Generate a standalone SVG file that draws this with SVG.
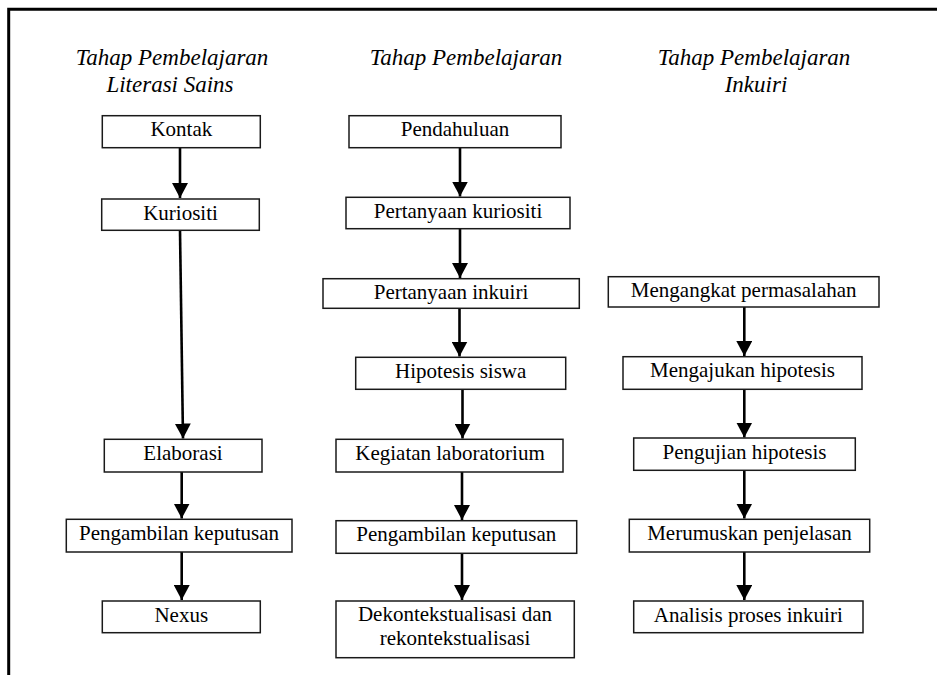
<svg xmlns="http://www.w3.org/2000/svg" width="937" height="675" viewBox="0 0 937 675">
<defs>
<marker id="ah" markerUnits="userSpaceOnUse" markerWidth="16" markerHeight="16" viewBox="0 0 16 16" refX="15" refY="8" orient="auto">
<path d="M0,0 L15,8 L0,16 Z" fill="#000"/>
</marker>
</defs>
<rect width="937" height="675" fill="#fff"/>
<path d="M8.7,675 V9.3 H937" fill="none" stroke="#000" stroke-width="3"/>
<g id="headers" font-family="Liberation Serif" font-style="italic" font-size="23" fill="#000" text-anchor="middle">
<text x="172" y="65">Tahap Pembelajaran</text>
<text x="170" y="92">Literasi Sains</text>
<text x="466" y="65">Tahap Pembelajaran</text>
<text x="754" y="65">Tahap Pembelajaran</text>
<text x="756" y="92">Inkuiri</text>
</g>
<g id="connectors" stroke="#000" stroke-width="2.6" fill="none" marker-end="url(#ah)">
<line x1="180" y1="148" x2="180" y2="198"/>
<line x1="180" y1="230.5" x2="183" y2="438.5"/>
<line x1="181.7" y1="472" x2="181.7" y2="518.5"/>
<line x1="181.7" y1="552" x2="181.7" y2="600"/>
<line x1="460" y1="148" x2="460" y2="196.5"/>
<line x1="460" y1="229" x2="460" y2="278"/>
<line x1="459.5" y1="308.5" x2="459.5" y2="356.5"/>
<line x1="462.5" y1="389.5" x2="462.5" y2="438.5"/>
<line x1="462" y1="472" x2="462" y2="520"/>
<line x1="462" y1="553.5" x2="462" y2="600"/>
<line x1="744.3" y1="307" x2="744.3" y2="356"/>
<line x1="744.3" y1="389.5" x2="744.3" y2="437.5"/>
<line x1="744.3" y1="470.5" x2="744.3" y2="518.5"/>
<line x1="744.3" y1="552" x2="744.3" y2="600"/>
</g>
<g id="nodes" font-family="Liberation Serif" font-size="21" text-anchor="middle">
<g id="kontak"><rect x="102.3" y="115.7" width="158" height="32" fill="#fff" stroke="#1a1a1a" stroke-width="1.5"/><text x="181.3" y="136">Kontak</text></g>
<g id="kuriositi"><rect x="101.7" y="199" width="157.6" height="31.3" fill="#fff" stroke="#1a1a1a" stroke-width="1.5"/><text x="180.5" y="219.5">Kuriositi</text></g>
<g id="elaborasi"><rect x="104.3" y="439.3" width="157.7" height="32.7" fill="#fff" stroke="#1a1a1a" stroke-width="1.5"/><text x="183" y="460">Elaborasi</text></g>
<g id="pengambilan1"><rect x="66.3" y="519.3" width="225.7" height="32.7" fill="#fff" stroke="#1a1a1a" stroke-width="1.5"/><text x="179" y="540">Pengambilan keputusan</text></g>
<g id="nexus"><rect x="102.3" y="601" width="158" height="31.7" fill="#fff" stroke="#1a1a1a" stroke-width="1.5"/><text x="181.3" y="621.5">Nexus</text></g>
<g id="pendahuluan"><rect x="349" y="115.7" width="212" height="32" fill="#fff" stroke="#1a1a1a" stroke-width="1.5"/><text x="455" y="136">Pendahuluan</text></g>
<g id="pertanyaan-kuriositi"><rect x="346" y="197.3" width="224" height="31.4" fill="#fff" stroke="#1a1a1a" stroke-width="1.5"/><text x="458" y="217.7">Pertanyaan kuriositi</text></g>
<g id="pertanyaan-inkuiri"><rect x="323" y="278.7" width="256.3" height="29.6" fill="#fff" stroke="#1a1a1a" stroke-width="1.5"/><text x="451" y="298.5">Pertanyaan inkuiri</text></g>
<g id="hipotesis-siswa"><rect x="355.7" y="357.3" width="210" height="32" fill="#fff" stroke="#1a1a1a" stroke-width="1.5"/><text x="460.7" y="377.7">Hipotesis siswa</text></g>
<g id="kegiatan"><rect x="336" y="439.3" width="227" height="32.7" fill="#fff" stroke="#1a1a1a" stroke-width="1.5"/><text x="450" y="460">Kegiatan laboratorium</text></g>
<g id="pengambilan2"><rect x="336" y="520.7" width="240.7" height="32.6" fill="#fff" stroke="#1a1a1a" stroke-width="1.5"/><text x="456.3" y="541.2">Pengambilan keputusan</text></g>
<g id="dekontekstualisasi"><rect x="336" y="601" width="238.3" height="56.7" fill="#fff" stroke="#1a1a1a" stroke-width="1.5"/><text x="455" y="621">Dekontekstualisasi dan</text><text x="455" y="645">rekontekstualisasi</text></g>
<g id="mengangkat"><rect x="608.3" y="276.7" width="270.7" height="30.3" fill="#fff" stroke="#1a1a1a" stroke-width="1.5"/><text x="743.7" y="296.5">Mengangkat permasalahan</text></g>
<g id="mengajukan"><rect x="623" y="356.7" width="239" height="32.6" fill="#fff" stroke="#1a1a1a" stroke-width="1.5"/><text x="742.5" y="377.2">Mengajukan hipotesis</text></g>
<g id="pengujian"><rect x="633.7" y="438" width="221.6" height="32.3" fill="#fff" stroke="#1a1a1a" stroke-width="1.5"/><text x="744.5" y="458.5">Pengujian hipotesis</text></g>
<g id="merumuskan"><rect x="629.3" y="519.3" width="240.4" height="32.7" fill="#fff" stroke="#1a1a1a" stroke-width="1.5"/><text x="749.5" y="540">Merumuskan penjelasan</text></g>
<g id="analisis"><rect x="633.7" y="601" width="229.3" height="31.7" fill="#fff" stroke="#1a1a1a" stroke-width="1.5"/><text x="748.3" y="621.5">Analisis proses inkuiri</text></g>
</g>
</svg>
